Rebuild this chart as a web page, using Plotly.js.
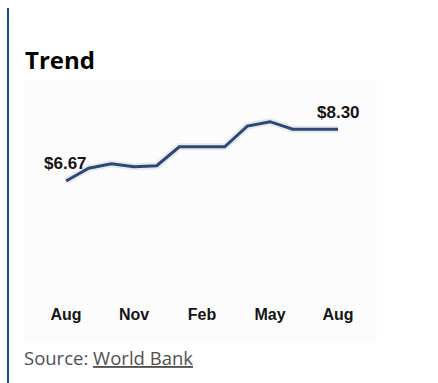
<!DOCTYPE html>
<html>
<head>
<meta charset="utf-8">
<script src="https://cdn.plot.ly/plotly-3.0.1.min.js"></script>
<style>html,body{margin:0;padding:0;background:#fff;}#chart{width:438px;height:383px;}</style>
</head>
<body>
<div id="chart"></div>
<script>
// Data
var monthIndex = [0,1,2,3,4,5,6,7,8,9,10,11,12];
var monthNames = ['Aug','Sep','Oct','Nov','Dec','Jan','Feb','Mar','Apr','May','Jun','Jul','Aug'];
var prices = [6.67, 7.07, 7.21, 7.12, 7.15, 7.75, 7.75, 7.75, 8.40, 8.54, 8.30, 8.30, 8.30];
var tickIdx = [0, 3, 6, 9, 12];
var tickLabels = ['Aug', 'Nov', 'Feb', 'May', 'Aug'];
var firstLabel = '$6.67';
var lastLabel = '$8.30';

var W = 438, H = 383;
var L = 25, R = 61, T = 80, B = 83;
var pw = W - L - R, ph = H - T - B;
function px(x){ return (x - L) / pw; }
function py(y){ return (H - B - y) / ph; }

var chartFont = 'Arial, "Liberation Sans", sans-serif';
var lineColor = '#2b4877';

var traces = [
  {x: monthIndex, y: prices, text: monthNames, mode: 'lines', type: 'scatter',
   line: {color: 'rgba(60,70,90,0.10)', width: 7}, hoverinfo: 'skip', showlegend: false},
  {x: monthIndex, y: prices, text: monthNames, mode: 'lines', type: 'scatter',
   line: {color: lineColor, width: 3}, showlegend: false}
];

var n = prices.length;
var layout = {
  width: W, height: H,
  margin: {l: L, r: R, t: T, b: B, pad: 0},
  paper_bgcolor: '#ffffff',
  plot_bgcolor: 'rgba(0,0,0,0)',
  showlegend: false,
  title: {text: '<b>Trend</b>', x: L / W, xanchor: 'left', xref: 'container',
          y: 1 - 61 / H, yref: 'container', yanchor: 'middle',
          font: {family: '"Open Sans", sans-serif', size: 24, color: '#000'}},
  xaxis: {range: [-1.81, 13.72], showgrid: false, zeroline: false, showline: false,
          tickmode: 'array', tickvals: tickIdx, ticktext: tickLabels, ticks: '',
          ticklabelstandoff: 3,
          tickfont: {family: chartFont, size: 16, color: '#151515', weight: 'bold'}, fixedrange: true},
  yaxis: {range: [2.918, 9.854], showgrid: false, zeroline: false, showline: false,
          showticklabels: false, ticks: '', fixedrange: true},
  shapes: [
    {type: 'rect', xref: 'paper', yref: 'paper', x0: px(24), x1: px(377), y0: py(80), y1: py(342),
     fillcolor: '#fcfcfc', line: {width: 0}, layer: 'below'},
    {type: 'rect', xref: 'paper', yref: 'paper', x0: px(7), x1: px(9), y0: py(8), y1: py(383),
     fillcolor: '#0b4f91', line: {width: 0}, layer: 'below'}
  ],
  annotations: [
    {x: monthIndex[0], y: prices[0], xref: 'x', yref: 'y', text: '<b>' + firstLabel + '</b>',
     showarrow: false, xanchor: 'center', yanchor: 'middle', yshift: 17, xshift: -1,
     font: {family: chartFont, size: 17, color: '#151515'}},
    {x: monthIndex[n-1], y: prices[n-1], xref: 'x', yref: 'y', text: '<b>' + lastLabel + '</b>',
     showarrow: false, xanchor: 'center', yanchor: 'middle', yshift: 17,
     font: {family: chartFont, size: 17, color: '#151515'}},
    {x: px(25), y: py(357), xref: 'paper', yref: 'paper', xanchor: 'left', yanchor: 'middle',
     xshift: -3, showarrow: false, text: 'Source: <u>World Bank</u>',
     font: {family: '"Open Sans", sans-serif', size: 18.5, color: '#505050'}}
  ]
};

Plotly.newPlot('chart', traces, layout, {displayModeBar: false, staticPlot: true});
</script>
</body>
</html>
